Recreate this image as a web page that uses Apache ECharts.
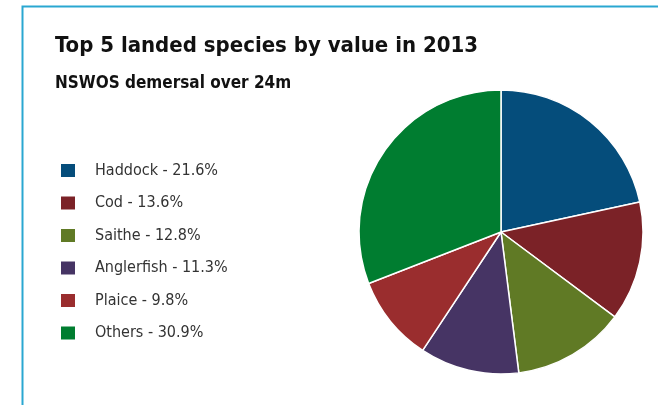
<!DOCTYPE html>
<html lang="en">
<head>
    <meta charset="UTF-8">
    <title>Top 5 landed species by value in 2013</title>
    <script type="text/javascript" src="https://cdn.jsdelivr.net/npm/echarts@6/dist/echarts.min.js"></script>
    <style>
        html, body { margin: 0; padding: 0; background: #fff; }
    </style>
</head>
<body>
<div id="main" style="width: 658px;height:405px;"></div>
<script>
    var species = ['Haddock', 'Cod', 'Saithe', 'Anglerfish', 'Plaice', 'Others'];
    var shares = [21.6, 13.6, 12.8, 11.3, 9.8, 30.9];
    var colors = ['#054d7b', '#7b2227', '#607a25', '#463464', '#9a2d2e', '#007d30'];

    var myChart = echarts.init(document.getElementById('main'));

    var pieData = [];
    for (var i = 0; i < species.length; i++) {
        pieData.push({value: shares[i], name: species[i], itemStyle: {color: colors[i]}});
    }

    var option = {
        animation: false,
        graphic: [
            {
                type: 'rect',
                shape: {x: 22.5, y: 6.5, width: 700, height: 500},
                style: {fill: 'none', stroke: '#2aa7d1', lineWidth: 2},
                silent: true
            }
        ],
        title: {
            text: 'Top 5 landed species by value in 2013',
            subtext: 'NSWOS demersal over 24m',
            left: 50,
            top: 30,
            itemGap: 18,
            textStyle: {
                fontFamily: 'DejaVu Sans Condensed',
                fontWeight: 'bold',
                fontSize: 22,
                color: '#111'
            },
            subtextStyle: {
                fontFamily: 'DejaVu Sans Condensed',
                fontWeight: 'bold',
                fontSize: 17,
                color: '#111'
            }
        },
        legend: {
            orient: 'vertical',
            left: 59,
            top: 162,
            padding: 0,
            itemWidth: 16,
            itemHeight: 15,
            itemGap: 15.5,
            icon: 'rect',
            formatter: function (name) {
                var idx = species.indexOf(name);
                return name + ' - ' + shares[idx] + '%';
            },
            textStyle: {
                fontFamily: 'DejaVu Sans Condensed',
                fontSize: 16,
                lineHeight: 15,
                color: '#333',
                padding: [0, 0, 0, 14]
            },
            data: species
        },
        series: [
            {
                name: 'Value',
                type: 'pie',
                center: [501, 232],
                radius: 142,
                startAngle: 90,
                clockwise: true,
                label: {show: false},
                labelLine: {show: false},
                itemStyle: {
                    borderColor: '#fff',
                    borderWidth: 1.5
                },
                data: pieData
            }
        ]
    };

    myChart.setOption(option);
</script>
</body>
</html>
